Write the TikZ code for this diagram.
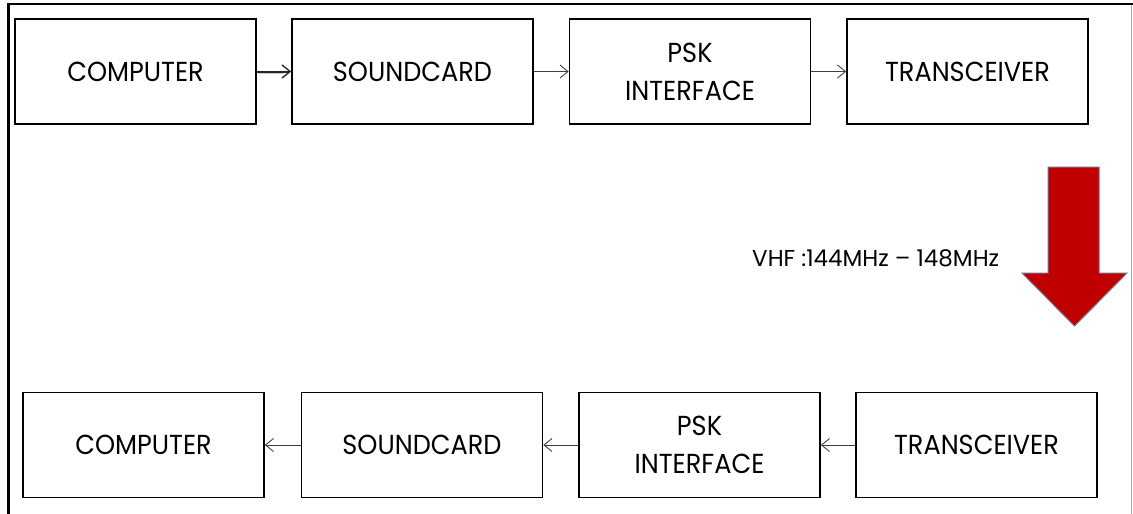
\documentclass[tikz,border=0pt]{standalone}
\usepackage{fontspec}
\setmainfont{Poppins}
\newfontfamily\boxfont[FakeStretch=0.93]{Poppins}
\usetikzlibrary{arrows.meta}
\definecolor{arrowred}{RGB}{192,0,0}
\definecolor{arrowedge}{RGB}{120,110,140}
\definecolor{framegray}{RGB}{170,170,170}
\tikzset{
  blockbox/.style={draw=black, line width=1.6pt, minimum width=241pt, minimum height=105pt,
    inner sep=0pt, align=center, font=\boxfont\fontsize{27.5}{38}\selectfont},
  thinflow/.style={draw=black!75, line width=0.9pt, -{Straight Barb[length=8pt,width=13pt,line width=0.9pt]}},
  thickflow/.style={draw=black!85, line width=2pt, -{Straight Barb[length=8pt,width=13pt,line width=1.4pt]}},
}
\begin{document}
\begin{tikzpicture}[x=1pt,y=-1pt]
\useasboundingbox (0,0) rectangle (1133,514);
% frame
\draw[line width=2.5pt] (8.5,3) -- (8.5,514);
\draw[line width=2pt] (7.5,4) -- (1133,4);
\draw[framegray, line width=1pt] (1131,5) -- (1131,514);
% top row
\node[blockbox] (c1) at (135.5,71.5) {COMPUTER};
\node[blockbox] (s1) at (412.5,71.5) {SOUNDCARD};
\node[blockbox] (p1) at (690,71.5) {PSK\\INTERFACE};
\node[blockbox] (t1) at (967.5,71.5) {TRANSCEIVER};
% bottom row
\node[blockbox] (c2) at (143.5,445) {COMPUTER};
\node[blockbox] (s2) at (422,445) {SOUNDCARD};
\node[blockbox] (p2) at (699.5,445) {PSK\\INTERFACE};
\node[blockbox] (t2) at (976.5,445) {TRANSCEIVER};
% soft shadow of first arrow
\draw[black!22, line width=1.8pt] ([xshift=2pt,yshift=-1.6pt]c1.east) -- ([xshift=-8pt,yshift=-1.6pt]s1.west);
% connectors
\draw[thickflow] (c1.east) -- (s1.west);
\draw[thinflow] (s1.east) -- (p1.west);
\draw[thinflow] (p1.east) -- (t1.west);
\draw[thinflow] (t2.west) -- (p2.east);
\draw[thinflow] (p2.west) -- (s2.east);
\draw[thinflow] (s2.west) -- (c2.east);
% big red arrow
\draw[fill=arrowred, draw=arrowedge, line width=1pt, line join=miter]
  (1048,167) -- (1099,167) -- (1099,273) -- (1127,273) -- (1074.5,326) -- (1022,273) -- (1048,273) -- cycle;
\node[anchor=base west, inner sep=0pt, font=\fontsize{23}{27}\selectfont] (band) at (752,266) {VHF :144MHz -- 148MHz};
\end{tikzpicture}
\end{document}
